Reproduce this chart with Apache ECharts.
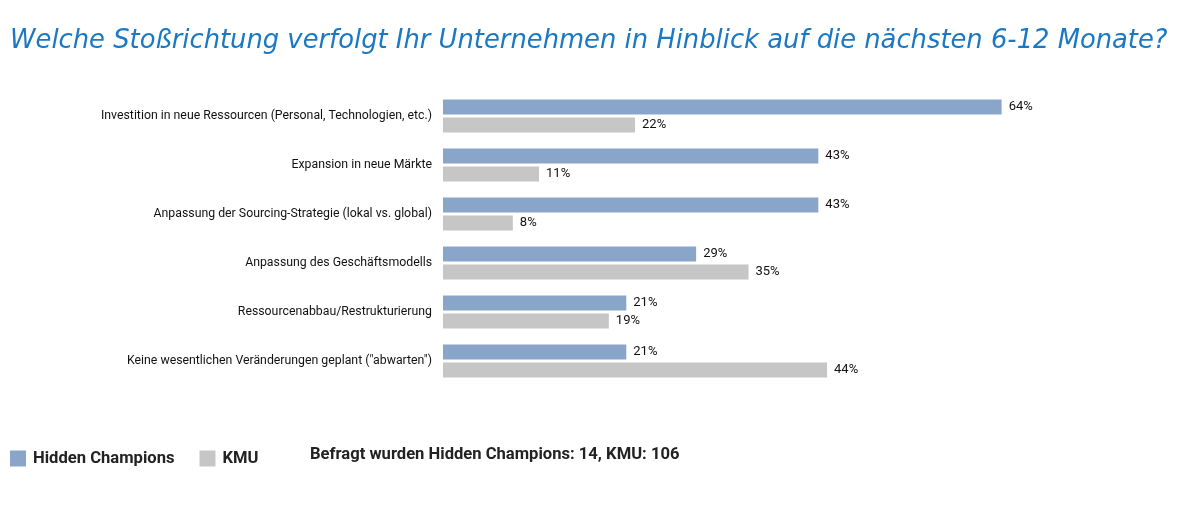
<!DOCTYPE html>
<html><head><meta charset="utf-8">
<script src="https://cdn.jsdelivr.net/npm/echarts@6/dist/echarts.min.js"></script>
<style>html,body{margin:0;padding:0;background:#fff}#c{width:1182px;height:507px}</style>
</head><body><div id="c"></div>
<script>
const categories = [
  'Investition in neue Ressourcen (Personal, Technologien, etc.)',
  'Expansion in neue Märkte',
  'Anpassung der Sourcing-Strategie (lokal vs. global)',
  'Anpassung des Geschäftsmodells',
  'Ressourcenabbau/Restrukturierung',
  'Keine wesentlichen Veränderungen geplant ("abwarten")'
];
const hiddenChampions = [64, 43, 43, 29, 21, 21];
const kmu = [22, 11, 8, 35, 19, 44];
const titleText = 'Welche Stoßrichtung verfolgt Ihr Unternehmen in Hinblick auf die nächsten 6-12 Monate?';
const noteText = 'Befragt wurden Hidden Champions: 14, KMU: 106';

const FONT = 'Roboto, sans-serif';
const chart = echarts.init(document.getElementById('c'));
chart.setOption({
  animation: false,
  title: {
    text: titleText, left: 5, top: 23,
    textStyle: { color: '#1b78c2', fontSize: 25.8, fontStyle: 'italic', fontWeight: 'normal', fontFamily: '"DejaVu Sans", sans-serif' }
  },
  legend: {
    left: 5, top: 445, itemWidth: 16, itemHeight: 16, itemGap: 25,
    icon: 'rect',
    textStyle: { fontSize: 16.6, fontWeight: 'bold', color: '#222', fontFamily: FONT, padding: [0, 0, 0, 2] },
    data: ['Hidden Champions', 'KMU']
  },
  graphic: [{
    type: 'text', left: 310, top: 446,
    style: { text: noteText, fontSize: 16.6, fontWeight: 'bold', fill: '#222', fontFamily: FONT }
  }],
  grid: { left: 443, top: 91.5, width: 611, height: 294 },
  xAxis: { type: 'value', min: 0, max: 70, show: false },
  yAxis: {
    type: 'category', data: categories, inverse: true,
    axisLine: { show: false }, axisTick: { show: false },
    axisLabel: { margin: 11, fontSize: 12.3, color: '#111', fontFamily: FONT }
  },
  series: [
    { name: 'Hidden Champions', type: 'bar', data: hiddenChampions, barWidth: 15, barGap: '20%',
      itemStyle: { color: '#89a5c9' },
      label: { show: true, position: 'right', distance: 7, formatter: '{c}%', fontSize: 13, color: '#111', fontFamily: FONT } },
    { name: 'KMU', type: 'bar', data: kmu, barWidth: 15, barGap: '20%',
      itemStyle: { color: '#c6c6c6' },
      label: { show: true, position: 'right', distance: 7, formatter: '{c}%', fontSize: 13, color: '#111', fontFamily: FONT } }
  ]
});
</script></body></html>
